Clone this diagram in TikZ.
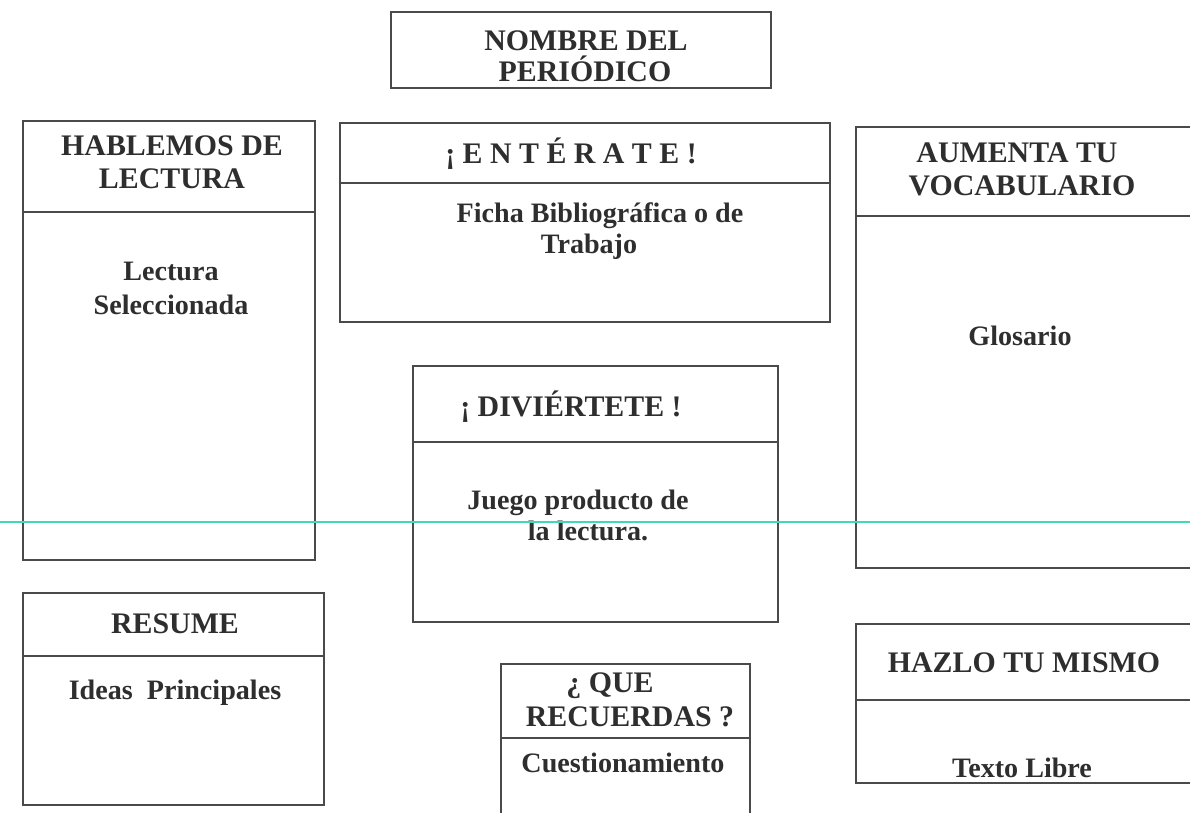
\documentclass[tikz,border=0pt]{standalone}
\usepackage{fontspec}
\setmainfont{Liberation Serif}
\usetikzlibrary{fit}
\definecolor{ink}{HTML}{2E2E2E}
\definecolor{linegray}{HTML}{4A4A4A}
\definecolor{cyanline}{HTML}{3FD9B5}
\tikzset{
  box/.style={draw=linegray, line width=0.8pt, rectangle, inner sep=0pt},
  divline/.style={draw=linegray, line width=0.7pt},
  ttl/.style={font=\fontsize{17}{17}\selectfont\bfseries, text=ink, anchor=base, inner sep=0pt},
  bodytxt/.style={font=\fontsize{16}{16}\selectfont\bfseries, text=ink, anchor=base, inner sep=0pt},
}
\begin{document}
\begin{tikzpicture}[x=0.02cm, y=-0.02cm]
\useasboundingbox (0,0) rectangle (1190,812);
\fill[white] (0,0) rectangle (1190,812);

% boxes
\node[box, fit={(391,12) (771,88)}] (nombre) {};
\node[box, fit={(23,121) (315,560)}] (hab) {};
\node[box, fit={(340,123) (830,322)}] (ent) {};
\node[box, fit={(856,127) (1210,568)}] (aum) {};
\node[box, fit={(413,366) (778,622)}] (div) {};
\node[box, fit={(23,593) (324,805)}] (res) {};
\node[box, fit={(501,664) (750,830)}] (que) {};
\node[box, fit={(856,624) (1210,783)}] (haz) {};

% dividers
\draw[divline] (hab.west |- 0,212) -- (hab.east |- 0,212);
\draw[divline] (ent.west |- 0,183) -- (ent.east |- 0,183);
\draw[divline] (aum.west |- 0,216) -- (aum.east |- 0,216);
\draw[divline] (div.west |- 0,442) -- (div.east |- 0,442);
\draw[divline] (res.west |- 0,656) -- (res.east |- 0,656);
\draw[divline] (que.west |- 0,738) -- (que.east |- 0,738);
\draw[divline] (haz.west |- 0,700) -- (haz.east |- 0,700);

% texts
\node[ttl] (t1a) at (586,50) {NOMBRE DEL};
\node[ttl] (t1b) at (585,81) {PERIÓDICO};

\node[ttl] (t2a) at (172,155) {HABLEMOS DE};
\node[ttl] (t2b) at (172,188) {LECTURA};
\node[bodytxt] (b2a) at (171,280) {Lectura};
\node[bodytxt] (b2b) at (171,314) {Seleccionada};

\node[ttl] (t3) at (571,163) {¡ E N T É R A T E !};
\node[bodytxt] (b3a) at (600,222) {Ficha Bibliográfica o de};
\node[bodytxt] (b3b) at (589,253) {Trabajo};

\node[ttl] (t4a) at (1017,162) {AUMENTA TU};
\node[ttl] (t4b) at (1022,195) {VOCABULARIO};
\node[bodytxt] (b4) at (1020,345) {Glosario};

\node[ttl] (t5) at (571,416) {¡ DIVIÉRTETE !};
\node[bodytxt] (b5a) at (578,509) {Juego producto de};
\node[bodytxt] (b5b) at (588,540) {la lectura.};

\node[ttl] (t6) at (175,633) {RESUME};
\node[bodytxt] (b6) at (175,699) {Ideas\ \ Principales};

\node[ttl] (t7a) at (610,692) {¿ QUE};
\node[ttl] (t7b) at (630,726) {RECUERDAS ?};
\node[bodytxt] (b7) at (623,772) {Cuestionamiento};

\node[ttl] (t8) at (1024,672) {HAZLO TU MISMO};
\node[bodytxt] (b8) at (1022,777) {Texto Libre};

% cyan guide line
\coordinate (cl) at (0,522);
\coordinate (cr) at (1190,522);
\draw[cyanline, line width=1.3pt] (cl) -- (cr);
\end{tikzpicture}
\end{document}
